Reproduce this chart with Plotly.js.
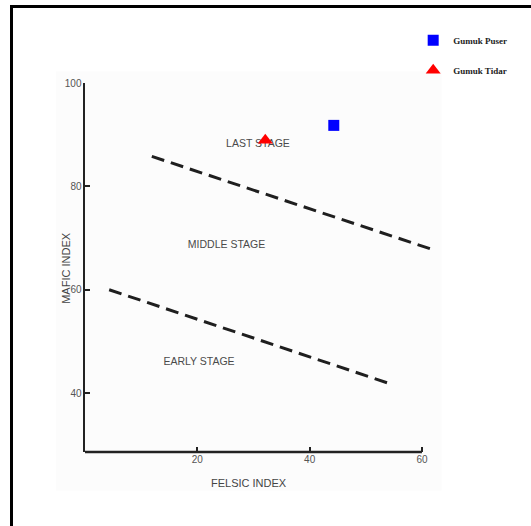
<!DOCTYPE html>
<html>
<head>
<meta charset="utf-8">
<script src="https://cdn.plot.ly/plotly-3.0.1.min.js"></script>
<style>
  html, body { margin: 0; padding: 0; background: #ffffff; overflow: hidden; }
  #chart { position: absolute; left: 0; top: 0; width: 531px; height: 526px; }
  #frame {
    position: absolute; left: 10px; top: 5px; width: 600px; height: 600px;
    border-left: 3.5px solid #000; border-top: 3px solid #000;
    pointer-events: none; z-index: 5;
  }
</style>
</head>
<body>
<div id="chart"></div>
<div id="frame"></div>
<script>
// Stage boundaries (dashed lines) in felsic / mafic index units
const upperBoundaryX = [11.9, 61.8];
const upperBoundaryY = [85.8, 67.8];
const lowerBoundaryX = [4.3, 54.6];
const lowerBoundaryY = [60.0, 41.7];

// Stage labels and their positions
const stageLabels = ['LAST STAGE', 'MIDDLE STAGE', 'EARLY STAGE'];
const stageX = [30.8, 25.2, 20.3];
const stageY = [88.1, 68.5, 46.0];

// Samples
const puserX = [44.3];
const puserY = [91.8];
const tidarX = [32.1];
const tidarY = [88.9];

// Axis ticks
const xTicks = [20, 40, 60];
const yTicks = [40, 60, 80, 100];

const lineColor = '#222222';
const boundaryStyle = { color: '#1f1f1f', width: 3, dash: '13px,7px' };

const traces = [
  {
    x: upperBoundaryX, y: upperBoundaryY, mode: 'lines',
    line: boundaryStyle, showlegend: false, hoverinfo: 'skip'
  },
  {
    x: lowerBoundaryX, y: lowerBoundaryY, mode: 'lines',
    line: boundaryStyle, showlegend: false, hoverinfo: 'skip'
  },
  {
    x: stageX, y: stageY, text: stageLabels, mode: 'text',
    textposition: 'middle center',
    textfont: { family: 'Liberation Sans, Arial, sans-serif', size: 10.5, color: '#4a4a4a' },
    showlegend: false, hoverinfo: 'skip'
  },
  {
    x: puserX, y: puserY, mode: 'markers', name: 'Gumuk Puser',
    legendgroup: 'puser',
    marker: { symbol: 'square', size: 11, color: '#0000ff' }
  },
  {
    x: tidarX, y: tidarY, mode: 'markers', name: 'Gumuk Tidar',
    legendgroup: 'tidar',
    marker: { symbol: 'triangle-up', size: 13, color: '#ff0000' }
  }
];

const layout = {
  width: 531,
  height: 526,
  margin: { l: 85, r: 95, t: 83, b: 74 },
  paper_bgcolor: '#ffffff',
  plot_bgcolor: 'rgba(0,0,0,0)',
  font: { family: 'Liberation Sans, Arial, sans-serif', color: '#555555' },
  xaxis: {
    range: [0, 62.5],
    showline: false,
    showgrid: false,
    zeroline: false,
    tickmode: 'array',
    tickvals: xTicks,
    ticks: 'inside',
    ticklen: 5,
    tickwidth: 2,
    tickcolor: lineColor,
    tickfont: { size: 10, color: '#555555' },
    fixedrange: true
  },
  yaxis: {
    range: [28.6, 100],
    showline: true,
    linecolor: lineColor,
    linewidth: 2.5,
    showgrid: false,
    zeroline: false,
    tickmode: 'array',
    tickvals: yTicks,
    ticks: 'inside',
    ticklen: 5,
    tickwidth: 2,
    tickcolor: lineColor,
    ticklabelstandoff: -1,
    tickfont: { size: 10, color: '#555555' },
    fixedrange: true
  },
  shapes: [
    // pale backdrop behind the diagram
    {
      type: 'rect', xref: 'paper', yref: 'paper', layer: 'below',
      x0: -0.083, x1: 1.016, y0: -0.104, y1: 1.032,
      fillcolor: '#fcfcfc', line: { width: 0 }
    },
    // felsic axis line, running from 0 to 60
    {
      type: 'line', xref: 'x', yref: 'paper',
      x0: 0, x1: xTicks[xTicks.length - 1], y0: 0, y1: 0,
      line: { color: lineColor, width: 2.5 }
    }
  ],
  annotations: [
    {
      text: 'FELSIC INDEX', xref: 'x', yref: 'paper',
      x: 29.2, y: -0.084, showarrow: false,
      xanchor: 'center', yanchor: 'middle',
      font: { size: 11, color: '#444444' }
    },
    {
      text: 'MAFIC INDEX', xref: 'paper', yref: 'paper',
      x: -0.056, y: 0.5, showarrow: false, textangle: -90,
      xanchor: 'center', yanchor: 'middle',
      font: { size: 11, color: '#444444' }
    }
  ],
  showlegend: true,
  legend: {
    x: 0.935, y: 1.155, xanchor: 'left', yanchor: 'top',
    bgcolor: 'rgba(0,0,0,0)',
    traceorder: 'grouped',
    tracegroupgap: 11,
    itemsizing: 'trace',
    font: { family: 'Liberation Serif, Times New Roman, serif', size: 9, weight: 'bold', color: '#222222' }
  }
};

Plotly.newPlot('chart', traces, layout, { displayModeBar: false, staticPlot: true });
</script>
</body>
</html>
